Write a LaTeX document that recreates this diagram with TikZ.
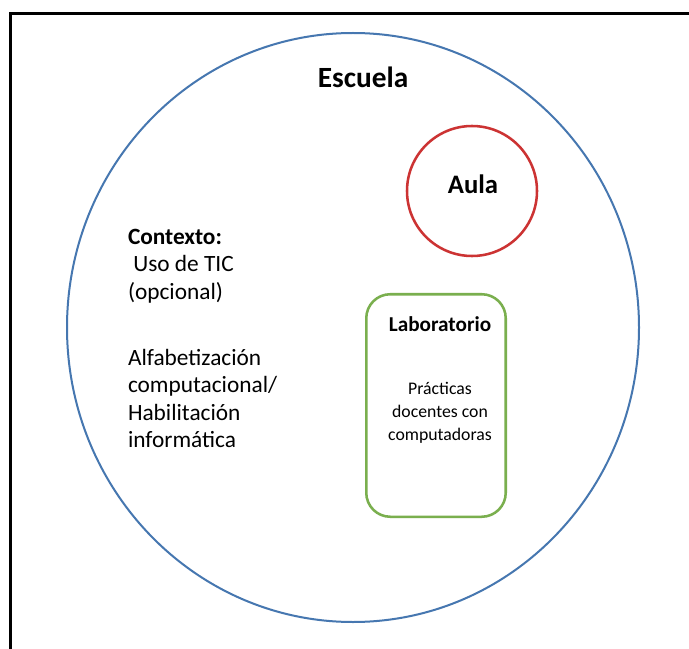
\documentclass[tikz,border=0pt]{standalone}
\usepackage{fontspec}
\setmainfont{Carlito}
\usepackage{tikz}
\usetikzlibrary{positioning}
\usepackage{xcolor}
\definecolor{school_blue}{HTML}{4677B0}
\definecolor{room_red}{HTML}{CC3333}
\definecolor{lab_green}{HTML}{7AAF4E}

\begin{document}
\begin{tikzpicture}[x=0.75pt, y=-0.75pt,
	every node/.style={inner sep=0pt, outer sep=0pt},
	sidetext/.style={font=\fontsize{17.5}{20.6}\selectfont, align=left, anchor=north west}]
	\useasboundingbox (0,0) rectangle (689,649);
	\fill[white] (0,0) rectangle (689,649);
	\coordinate (F1) at (10,649);
	\coordinate (F2) at (10,14);
	\coordinate (F3) at (689,14);
	\draw[line width=2.25pt] (F1) -- (F2) -- (F3);
	\draw[school_blue, line width=1.5pt] (353,327.5) ellipse [x radius=286, y radius=294.5];
	\node[font=\fontsize{22}{26}\selectfont\bfseries, anchor=base] (escuela) at (363,88) {Escuela};
	\node[draw=room_red, line width=1.9pt, circle, minimum size=97.5pt] (aula) at (472,191) {};
	\node[font=\fontsize{20}{24}\selectfont\bfseries, anchor=base] (aulatxt) at (473,194) {Aula};
	\node[sidetext] (ctx) at (128,229) {\textbf{Contexto:}\\\ Uso de TIC\\(opcional)};
	\node[sidetext] (alfa) at (128,349) {Alfabetización\\computacional/\\Habilitación\\informática};
	\node[draw=lab_green, line width=1.9pt, rounded corners=18pt, minimum width=104.6pt, minimum height=166.9pt] (lab) at (436,405.5) {};
	\node[font=\fontsize{15.9}{19}\selectfont\bfseries, anchor=base] (labtit) at (440,331) {Laboratorio};
	\node[font=\fontsize{13.3}{17.25}\selectfont, align=center, below=38pt of labtit] (pract) {Prácticas\\docentes con\\computadoras};
\end{tikzpicture}
\end{document}
